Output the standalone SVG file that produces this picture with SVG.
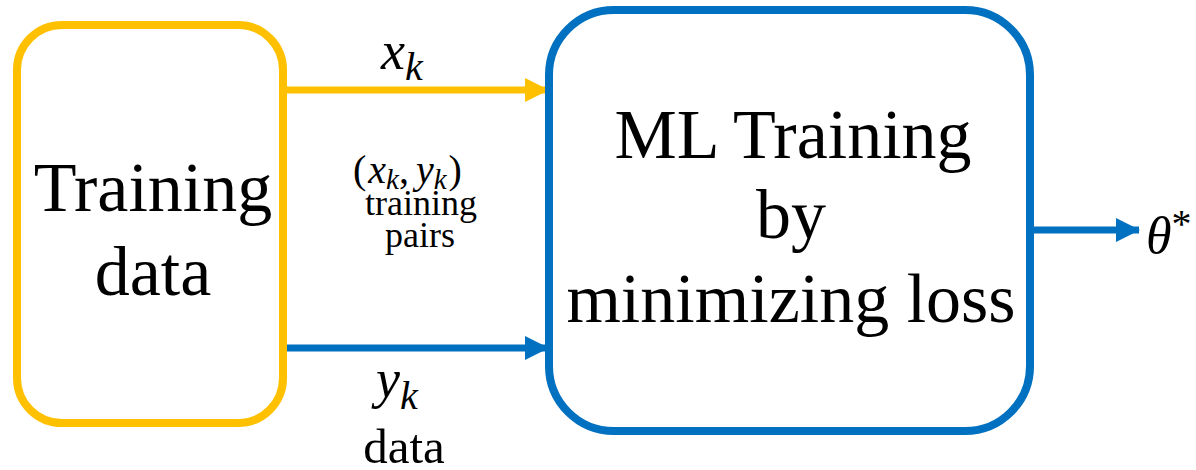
<svg xmlns="http://www.w3.org/2000/svg" width="1196" height="470" viewBox="0 0 1196 470">
  <defs>
    <marker id="headY" viewBox="0 0 24 24" refX="23" refY="12" markerWidth="24" markerHeight="24" markerUnits="userSpaceOnUse" orient="auto">
      <path d="M0,0 L24,12 L0,24 Z" fill="#FFC000"/>
    </marker>
    <marker id="headB" viewBox="0 0 24 24" refX="23" refY="12" markerWidth="24" markerHeight="24" markerUnits="userSpaceOnUse" orient="auto">
      <path d="M0,0 L24,12 L0,24 Z" fill="#0070C0"/>
    </marker>
  </defs>
  <rect width="1196" height="470" fill="#FFFFFF"/>

  <!-- connectors -->
  <g id="connectors" fill="none" stroke-width="7">
    <line x1="287" y1="90" x2="548" y2="90" stroke="#FFC000" marker-end="url(#headY)"/>
    <line x1="287" y1="348" x2="548" y2="348" stroke="#0070C0" marker-end="url(#headB)"/>
    <line x1="1034" y1="230" x2="1139" y2="230" stroke="#0070C0" marker-end="url(#headB)"/>
  </g>

  <!-- edge labels -->
  <g id="edge-labels" fill="#000000">
    <text style="font-family:'Liberation Serif',serif !important" font-family="Liberation Serif" font-style="italic" x="381" y="69" font-size="54">x<tspan font-size="40" dy="11">k</tspan></text>
    <text style="font-family:'Liberation Serif',serif !important" font-family="Liberation Serif" font-style="italic" x="376" y="397" font-size="54">y<tspan font-size="40" dy="12">k</tspan></text>
    <text style="font-family:'Liberation Serif',serif !important" font-family="Liberation Serif" text-anchor="middle" x="404" y="463" font-size="49">data</text>
    <text style="font-family:'Liberation Serif',serif !important" font-family="Liberation Serif" font-style="italic" x="353" y="183" font-size="40"><tspan font-style="normal">(</tspan><tspan dx="2">x</tspan><tspan font-size="29" dy="6">k</tspan><tspan dy="-6" font-style="normal">,</tspan><tspan dx="7">y</tspan><tspan font-size="29" dy="6">k</tspan><tspan dx="2" dy="-6" font-style="normal">)</tspan></text>
    <text style="font-family:'Liberation Serif',serif !important" font-family="Liberation Serif" text-anchor="middle" x="421" y="215" font-size="36">training</text>
    <text style="font-family:'Liberation Serif',serif !important" font-family="Liberation Serif" text-anchor="middle" x="420" y="247" font-size="36">pairs</text>
    <text style="font-family:'Liberation Serif',serif !important" font-family="Liberation Serif" font-style="italic" x="1146" y="253" font-size="52">&#952;<tspan font-style="normal" font-size="40" dy="-16">*</tspan></text>
  </g>

  <!-- source node -->
  <g id="training-data">
    <rect x="17" y="25" width="266" height="398" rx="45" ry="45" fill="#FFFFFF" stroke="#FFC000" stroke-width="8"/>
    <text style="font-family:'Liberation Serif',serif !important" font-family="Liberation Serif" text-anchor="middle" x="153" y="211" font-size="70">Training</text>
    <text style="font-family:'Liberation Serif',serif !important" font-family="Liberation Serif" text-anchor="middle" x="153" y="295" font-size="70">data</text>
  </g>

  <!-- training node -->
  <g id="ml-training">
    <rect x="549" y="10" width="481" height="421" rx="65" ry="65" fill="#FFFFFF" stroke="#0070C0" stroke-width="8"/>
    <text style="font-family:'Liberation Serif',serif !important" font-family="Liberation Serif" text-anchor="middle" x="793" y="158" font-size="70">ML Training</text>
    <text style="font-family:'Liberation Serif',serif !important" font-family="Liberation Serif" text-anchor="middle" x="791" y="238" font-size="70">by</text>
    <text style="font-family:'Liberation Serif',serif !important" font-family="Liberation Serif" text-anchor="middle" x="791" y="322" font-size="70">minimizing loss</text>
  </g>
</svg>
